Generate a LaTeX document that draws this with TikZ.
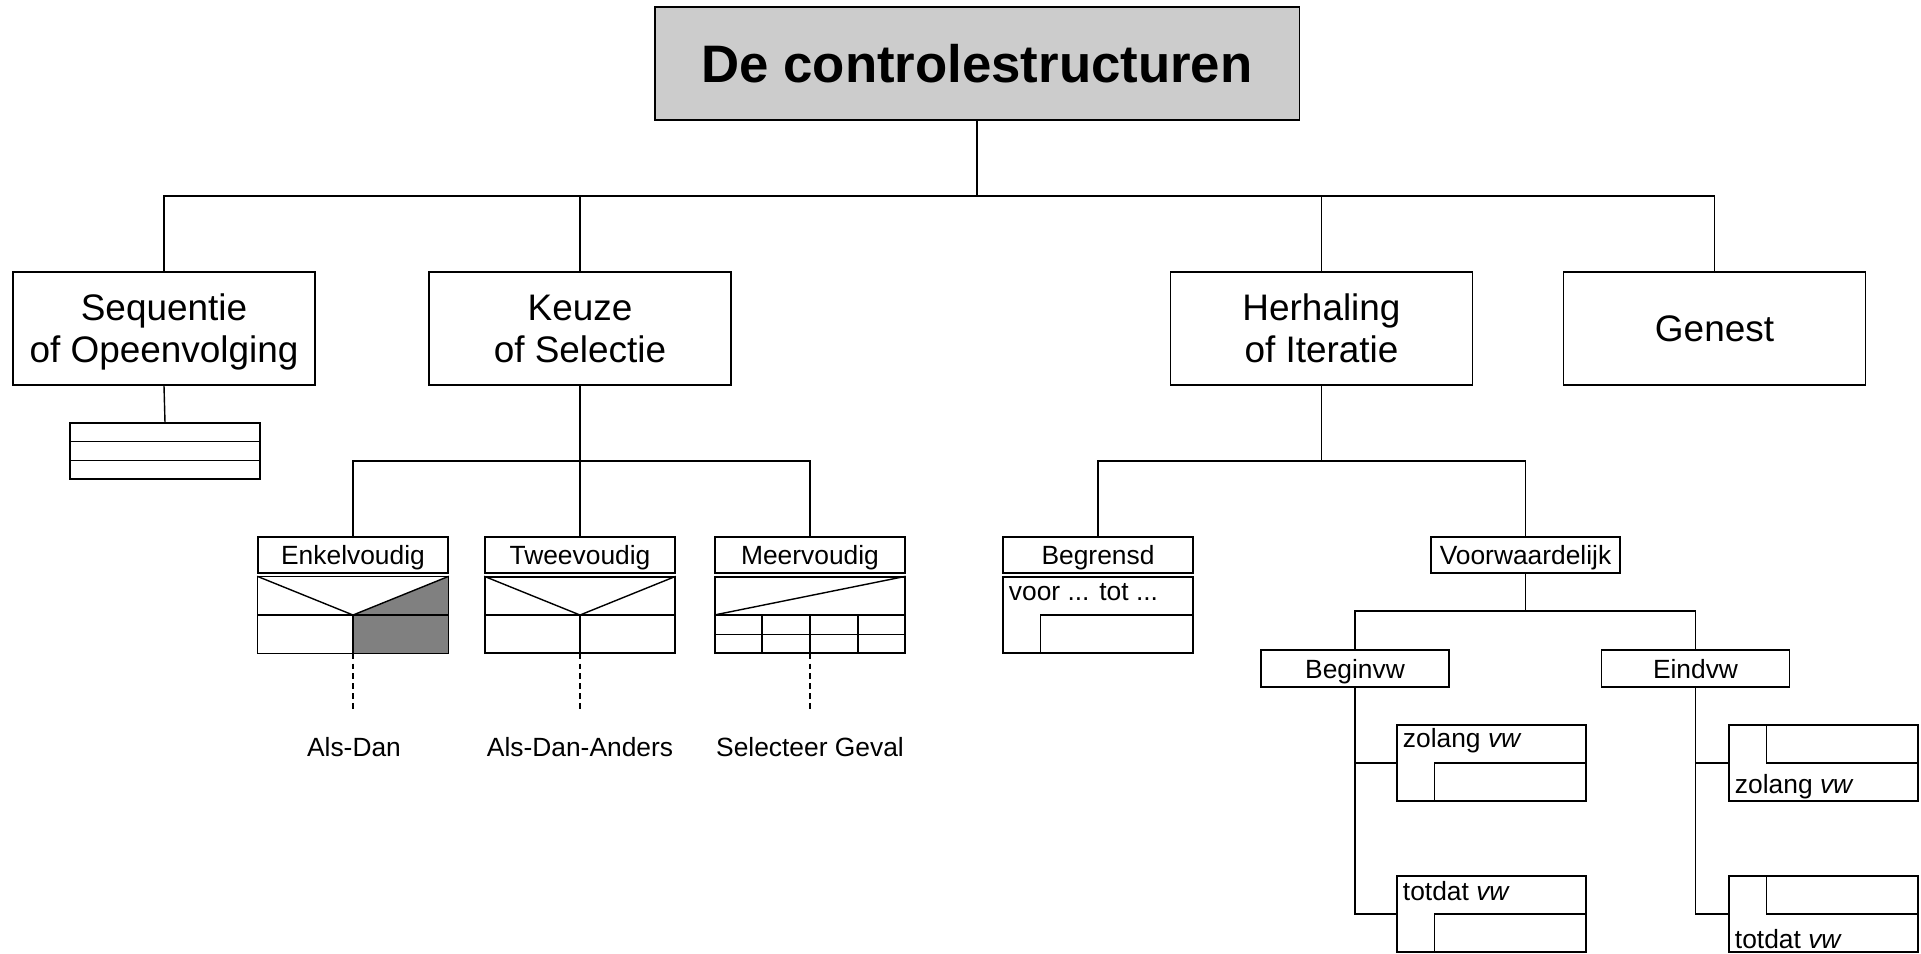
\documentclass[tikz,border=0pt]{standalone}
\usepackage{fontspec}
\setmainfont{Liberation Sans}
\usetikzlibrary{calc}

\begin{document}
\begin{tikzpicture}[x=0.01cm, y=-0.01cm, line width=0.4pt,
    big/.style={draw, rectangle, inner sep=0pt, align=center, text depth=0pt, minimum width=3.02cm, minimum height=1.13cm, font=\fontsize{10.5}{12}\selectfont},
    small/.style={draw, rectangle, inner sep=0pt, text depth=0pt, minimum width=1.9cm, minimum height=0.36cm, font=\fontsize{7.5}{9}\selectfont},
    body/.style={draw, rectangle, inner sep=0pt, minimum width=1.9cm, minimum height=0.76cm},
    txt/.style={inner sep=0pt, anchor=west, font=\fontsize{7.5}{9}\selectfont},
    dashline/.style={dash pattern=on 1.6pt off 1.2pt}]

    \useasboundingbox (0,0) rectangle (1921,953);

    % title and main branches
    \node [draw, fill=black!20, inner sep=0pt, minimum width=6.44cm, minimum height=1.13cm, font=\fontsize{15}{18}\selectfont\bfseries] (title) at (977,63.5) {De controlestructuren};

    \node [big] (seq) at (164,328.5) {Sequentie\\of Opeenvolging};
    \node [big] (keuze) at (580,328.5) {Keuze\\of Selectie};
    \node [big] (herh) at (1321.5,328.5) {Herhaling\\of Iteratie};
    \node [big] (genest) at (1714.5,328.5) {Genest};

    \node [coordinate] (bus) at (977,196) {};
    \draw (title.south) -- (bus);
    \draw (bus) -| (seq.north);
    \draw (bus) -| (keuze.north);
    \draw (bus) -| (herh.north);
    \draw (bus) -| (genest.north);

    % sequentie
    \node [draw, inner sep=0pt, minimum width=1.9cm, minimum height=0.56cm] (seqblk) at (165,451) {};
    \draw (seq.south) -- (seqblk.north);
    \foreach \f in {0.333,0.667}
        \draw ($(seqblk.north west)!\f!(seqblk.south west)$) -- ($(seqblk.north east)!\f!(seqblk.south east)$);

    % keuze
    \node [small] (enk) at (353,555) {Enkelvoudig};
    \node [small] (twee) at (580,555) {Tweevoudig};
    \node [small] (meer) at (810,555) {Meervoudig};
    \node [body, draw=none] (enkb) at (353,615) {};
    \node [body] (tweeb) at (580,615) {};
    \node [body] (meerb) at (810,615) {};

    \node [coordinate] (kbus) at (580,461) {};
    \draw (keuze.south) -- (kbus);
    \draw (kbus) -| (enk.north);
    \draw (kbus) -- (twee.north);
    \draw (kbus) -| (meer.north);

    \fill [black!50] (enkb.center) -- (enkb.north east) -- (enkb.south east) -- (enkb.south) -- cycle;
    \draw (enkb.north west) rectangle (enkb.south east);
    \draw (enkb.north west) -- (enkb.center) -- (enkb.north east);
    \draw (enkb.west) -- (enkb.east);
    \draw (enkb.center) -- (enkb.south);

    \draw (tweeb.north west) -- (tweeb.center) -- (tweeb.north east);
    \draw (tweeb.west) -- (tweeb.east);
    \draw (tweeb.center) -- (tweeb.south);

    \draw (meerb.west) -- (meerb.north east);
    \draw (meerb.west) -- (meerb.east);
    \draw ($(meerb.west)!0.5!(meerb.south west)$) -- ($(meerb.east)!0.5!(meerb.south east)$);
    \foreach \f in {0.25,0.5,0.75}
        \draw ($(meerb.west)!\f!(meerb.east)$) -- ($(meerb.south west)!\f!(meerb.south east)$);

    \node [coordinate] (enkd) at (353,711) {};
    \node [coordinate] (tweed) at (580,711) {};
    \node [coordinate] (meerd) at (810,711) {};
    \draw [dashline] (enkb.south) -- (enkd);
    \draw [dashline] (tweeb.south) -- (tweed);
    \draw [dashline] (meerb.south) -- (meerd);

    \node [font=\fontsize{7.5}{9}\selectfont] (alsdan) at (354,747) {Als-Dan};
    \node [font=\fontsize{7.5}{9}\selectfont] (alsdananders) at (580,747) {Als-Dan-Anders};
    \node [font=\fontsize{7.5}{9}\selectfont] (selecteer) at (810,747) {Selecteer Geval};

    % herhaling
    \node [small] (begr) at (1098,555) {Begrensd};
    \node [body] (begrb) at (1098,615) {};
    \node [small, minimum width=1.89cm] (voorw) at (1525.5,555) {Voorwaardelijk};

    \node [coordinate] (hbus) at (1321.5,461) {};
    \draw (herh.south) -- (hbus);
    \draw (hbus) -| (begr.north);
    \draw (hbus) -| (voorw.north);

    \draw ($(begrb.south west)+(38,0)$) |- (begrb.east);
    \node [txt] (voortot) at ($(begrb.north west)+(6,16)$) {voor ... tot ...};

    % voorwaardelijk
    \node [small, minimum width=1.88cm, minimum height=0.37cm] (beginvw) at (1355,668.5) {Beginvw};
    \node [small, minimum width=1.88cm, minimum height=0.37cm] (eindvw) at (1695.5,668.5) {Eindvw};

    \node [coordinate] (vbus) at (1525.5,611) {};
    \draw (voorw.south) -- (vbus);
    \draw (vbus) -| (beginvw.north);
    \draw (vbus) -| (eindvw.north);

    \node [body, minimum width=1.89cm] (bzolang) at (1491.5,763) {};
    \node [body, minimum width=1.89cm] (btotdat) at (1491.5,914) {};
    \node [body, minimum width=1.89cm] (ezolang) at (1823.5,763) {};
    \node [body, minimum width=1.89cm] (etotdat) at (1823.5,914) {};

    \draw (beginvw.south) |- (bzolang.west);
    \draw (beginvw.south) |- (btotdat.west);
    \draw (eindvw.south) |- (ezolang.west);
    \draw (eindvw.south) |- (etotdat.west);

    \draw ($(bzolang.south west)+(38,0)$) |- (bzolang.east);
    \draw ($(btotdat.south west)+(38,0)$) |- (btotdat.east);
    \draw ($(ezolang.north west)+(38,0)$) |- (ezolang.east);
    \draw ($(etotdat.north west)+(38,0)$) |- (etotdat.east);

    \node [txt] (bzolangt) at ($(bzolang.north west)+(6,16)$) {zolang \textit{vw}};
    \node [txt] (btotdatt) at ($(btotdat.north west)+(6,16)$) {totdat \textit{vw}};
    \node [txt] (ezolangt) at ($(ezolang.south west)+(6,-15)$) {zolang \textit{vw}};
    \node [txt] (etotdatt) at ($(etotdat.south west)+(6,-14)$) {totdat \textit{vw}};
\end{tikzpicture}
\end{document}
